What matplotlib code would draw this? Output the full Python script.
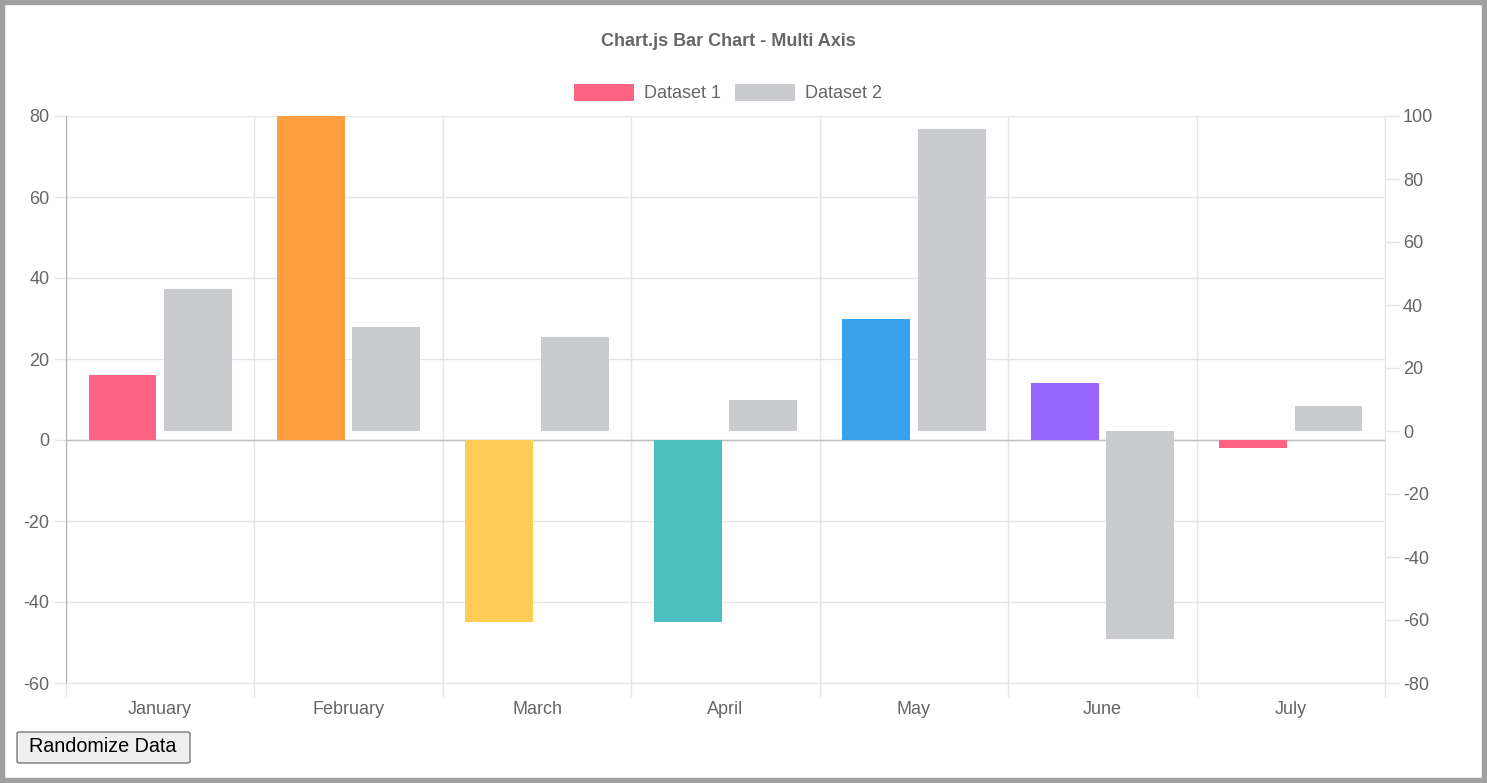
import matplotlib
matplotlib.use('Agg')
import matplotlib.pyplot as plt
import numpy as np
from matplotlib.patches import Rectangle, FancyBboxPatch

plt.rcParams['font.family'] = ['Liberation Sans', 'DejaVu Sans']
plt.rcParams['axes.unicode_minus'] = False

# data
months = ['January', 'February', 'March', 'April', 'May', 'June', 'July']
dataset1 = [16, 80, -45, -45, 30, 14, -2]
dataset2 = [45, 33, 30, 10, 96, -66, 8]
colors1 = ['#FF6384', '#FF9F40', '#FFCD56', '#4BC0C0', '#36A2EB', '#9966FF', '#FF6384']
color2 = '#C9CBCF'
left_ticks = [-60, -40, -20, 0, 20, 40, 60, 80]
right_ticks = [-80, -60, -40, -20, 0, 20, 40, 60, 80, 100]

W, H = 1487, 783
fig = plt.figure(figsize=(W / 100, H / 100), dpi=100)

# outer gray frame
fig.patches.append(Rectangle((0, 0), 1, 1, transform=fig.transFigure,
                             facecolor='none', edgecolor='#a0a0a0', linewidth=7.5))

ax = fig.add_axes([66 / W, 100 / H, (1385 - 66) / W, 567 / H])
ax2 = ax.twinx()

x = np.arange(len(months))
ax.bar(x - 0.2, dataset1, width=0.36, color=colors1, zorder=3)
ax2.bar(x + 0.2, dataset2, width=0.36, color=color2, zorder=3)

grid_c = '#e5e5e5'
text_c = '#666666'

ax.set_xlim(-0.5, len(months) - 0.5)
ax.set_ylim(-60, 80)
ax2.set_ylim(-80, 100)
ax.set_yticks(left_ticks)
ax2.set_yticks(right_ticks)

ax.set_xticks(x)
ax.set_xticklabels(months)
ax.set_xticks(np.arange(-0.5, len(months)), minor=True)
ax.tick_params(axis='x', which='major', length=0, pad=13, labelsize=13, labelcolor=text_c)
ax.tick_params(axis='x', which='minor', length=10, color=grid_c, width=1)
ax.tick_params(axis='y', length=9, color=grid_c, width=1, pad=3, labelsize=13, labelcolor=text_c)
ax2.tick_params(axis='y', length=10, color=grid_c, width=1, pad=3, labelsize=13, labelcolor=text_c)

ax.grid(True, which='minor', axis='x', color=grid_c, linewidth=1, zorder=0)
ax.grid(True, which='major', axis='y', color=grid_c, linewidth=1, zorder=0)
ax.axhline(0, color='#bfbfbf', linewidth=1, zorder=2)

for s in ['top']:
    ax.spines[s].set_visible(False)
    ax2.spines[s].set_visible(False)
ax.spines['left'].set_color('#b0b0b0')
ax.spines['bottom'].set_color(grid_c)
ax2.spines['right'].set_color(grid_c)
ax2.spines['left'].set_visible(False)
ax2.spines['bottom'].set_visible(False)
ax.spines['right'].set_visible(False)

# title
fig.text(728 / W, 1 - 42 / H, 'Chart.js Bar Chart - Multi Axis', ha='center', va='center',
         fontsize=13, fontweight='bold', color=text_c)

# legend
for bx, tx, col, lab in [(574, 644, colors1[0], 'Dataset 1'), (735, 805, color2, 'Dataset 2')]:
    fig.patches.append(Rectangle((bx / W, 1 - 101 / H), 60 / W, 17 / H,
                                 transform=fig.transFigure, facecolor=col, edgecolor='none'))
    fig.text(tx / W, 1 - 93 / H, lab, ha='left', va='center', fontsize=13, color=text_c)

# button
fig.patches.append(FancyBboxPatch((17 / W, 1 - 763 / H), 173 / W, 31 / H,
                                  boxstyle='round,pad=0,rounding_size=0.002',
                                  transform=fig.transFigure, facecolor='#efefef',
                                  edgecolor='#767676', linewidth=1))
fig.text(103 / W, 1 - 747 / H, 'Randomize Data', ha='center', va='center',
         fontsize=14.2, color='black')

fig.savefig('out.png', dpi=100)
